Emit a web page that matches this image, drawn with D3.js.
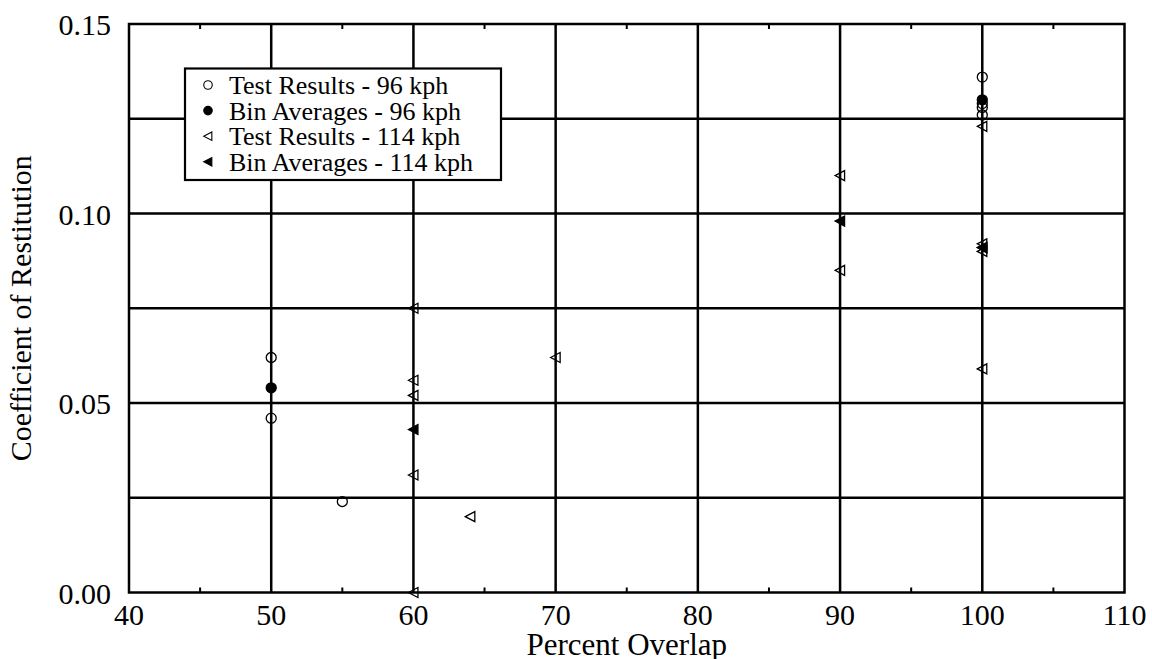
<!DOCTYPE html>
<html>
<head>
<meta charset="utf-8">
<script src="https://cdn.jsdelivr.net/npm/d3@7"></script>
<style>
  html, body { margin: 0; padding: 0; background: #fff; }
  svg { display: block; font-family: "Liberation Serif", "Times New Roman", serif; }
</style>
</head>
<body>
<svg id="chart" width="1152" height="659"></svg>
<script>
// Coefficient of restitution vs. percent overlap, two impact speeds
const test96X = [50, 50, 55, 100, 100, 100, 100];
const test96Y = [0.062, 0.046, 0.024, 0.136, 0.129, 0.128, 0.126];
const avg96X = [50, 100];
const avg96Y = [0.054, 0.130];
const test114X = [60, 60, 60, 60, 60, 64, 70, 90, 90, 100, 100, 100, 100, 100];
const test114Y = [0.075, 0.056, 0.052, 0.031, 0.000, 0.020, 0.062, 0.110, 0.085, 0.123, 0.092, 0.091, 0.090, 0.059];
const avg114X = [60, 90, 100];
const avg114Y = [0.043, 0.098, 0.091];

const xTicks = [40, 50, 60, 70, 80, 90, 100, 110];
const xMinorTicks = [45, 55, 65, 75, 85, 95, 105];
const yTickLabels = ["0.00", "0.05", "0.10", "0.15"];
const yTicks = [0, 0.05, 0.10, 0.15];
const yGrid = [0.025, 0.05, 0.075, 0.10, 0.125];
const legendLabels = ["Test Results - 96 kph", "Bin Averages - 96 kph", "Test Results - 114 kph", "Bin Averages - 114 kph"];

const svg = d3.select("#chart");
const plotLeft = 129, plotRight = 1124.5, plotTop = 24, plotBottom = 592.5;

const x = d3.scaleLinear().domain([40, 110]).range([plotLeft, plotRight]);
const y = d3.scaleLinear().domain([0, 0.15]).range([plotBottom, plotTop]);

const LW = 2.5;
const g = svg.append("g");

// grid lines
g.selectAll("line.vgrid").data(xTicks.slice(1, -1)).join("line")
  .attr("x1", d => x(d)).attr("x2", d => x(d))
  .attr("y1", plotTop).attr("y2", plotBottom)
  .attr("stroke", "#000").attr("stroke-width", LW);
g.selectAll("line.hgrid").data(yGrid).join("line")
  .attr("x1", plotLeft).attr("x2", plotRight)
  .attr("y1", d => y(d)).attr("y2", d => y(d))
  .attr("stroke", "#000").attr("stroke-width", LW);

// minor ticks along top and bottom edges, pointing inward
xMinorTicks.forEach(t => {
  g.append("line").attr("x1", x(t)).attr("x2", x(t)).attr("y1", plotBottom).attr("y2", plotBottom - 5)
    .attr("stroke", "#000").attr("stroke-width", 2);
  g.append("line").attr("x1", x(t)).attr("x2", x(t)).attr("y1", plotTop).attr("y2", plotTop + 5)
    .attr("stroke", "#000").attr("stroke-width", 2);
});

// frame
g.append("rect").attr("x", plotLeft).attr("y", plotTop)
  .attr("width", plotRight - plotLeft).attr("height", plotBottom - plotTop)
  .attr("fill", "none").attr("stroke", "#000").attr("stroke-width", LW);

// tick labels
g.selectAll("text.xt").data(xTicks).join("text")
  .attr("x", d => x(d)).attr("y", 625)
  .attr("text-anchor", "middle").attr("font-size", 30)
  .text(d => d);
g.selectAll("text.yt").data(yTicks).join("text")
  .attr("x", 111).attr("y", d => y(d) + 11)
  .attr("text-anchor", "end").attr("font-size", 30)
  .text((d, i) => yTickLabels[i]);

// axis titles
svg.append("text").attr("x", (plotLeft + plotRight) / 2).attr("y", 655)
  .attr("text-anchor", "middle").attr("font-size", 31).text("Percent Overlap");
svg.append("text")
  .attr("transform", `translate(31, ${(plotTop + plotBottom) / 2}) rotate(-90)`)
  .attr("text-anchor", "middle").attr("font-size", 30).text("Coefficient of Restitution");

// marker shapes
const circlePath = d3.symbol().type(d3.symbolCircle).size(Math.PI * 25)();
const triPath = "M-5,0L4.5,-5L4.5,5Z";

function plot(xs, ys, path, filled) {
  g.append("g").selectAll("path").data(xs.map((v, i) => [v, ys[i]])).join("path")
    .attr("d", path)
    .attr("transform", d => `translate(${x(d[0])},${y(d[1])})`)
    .attr("fill", filled ? "#000" : "none")
    .attr("stroke", "#000").attr("stroke-width", 1.3);
}
plot(test96X, test96Y, circlePath, false);
plot(avg96X, avg96Y, circlePath, true);
plot(test114X, test114Y, triPath, false);
plot(avg114X, avg114Y, triPath, true);

// legend
const lg = svg.append("g");
lg.append("rect").attr("x", 185).attr("y", 68.5).attr("width", 316).attr("height", 111.5)
  .attr("fill", "#fff").attr("stroke", "#000").attr("stroke-width", 2.2);
const legendShapes = [[circlePath, false], [circlePath, true], [triPath, false], [triPath, true]];
legendLabels.forEach((label, i) => {
  const cy = 85 + i * 25.6;
  lg.append("path").attr("d", legendShapes[i][0])
    .attr("transform", `translate(208,${cy}) scale(0.85)`)
    .attr("fill", legendShapes[i][1] ? "#000" : "none")
    .attr("stroke", "#000").attr("stroke-width", 1.3);
  lg.append("text").attr("x", 229).attr("y", cy + 9)
    .attr("font-size", 26).text(label);
});
</script>
</body>
</html>
